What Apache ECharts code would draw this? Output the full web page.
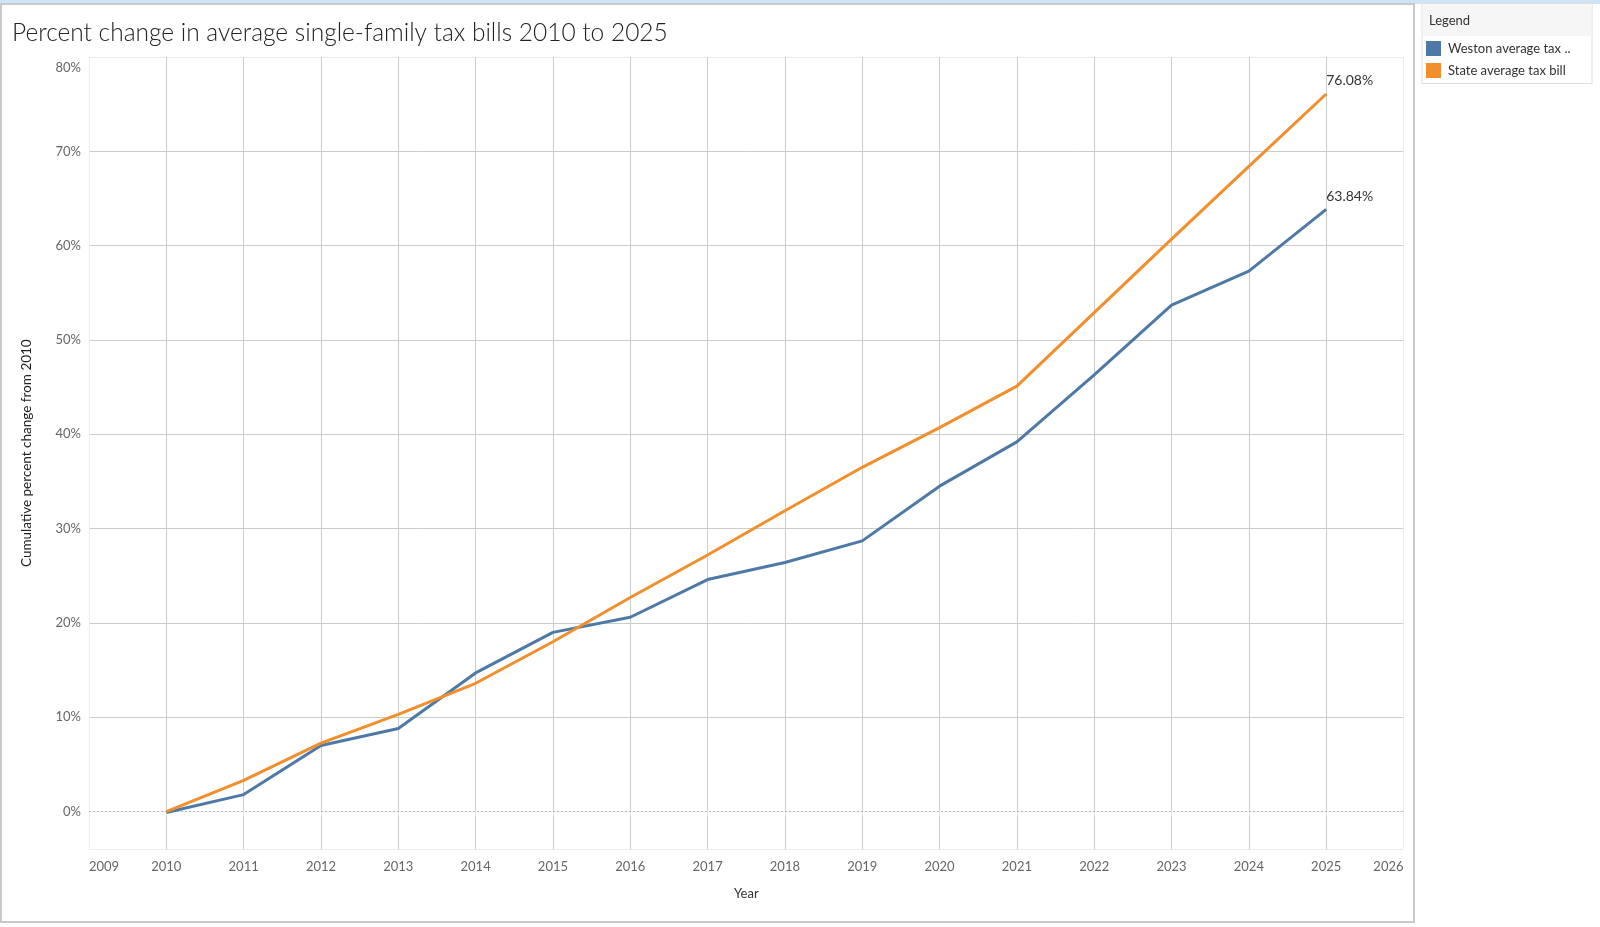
<!DOCTYPE html>
<html>
<head>
<meta charset="utf-8">
<script src="https://cdn.jsdelivr.net/npm/echarts@6/dist/echarts.min.js"></script>
<style>
html,body{margin:0;padding:0;background:#fff;}
#chart{width:1600px;height:927px;}
</style>
</head>
<body>
<div id="chart"></div>
<script>
const years = [2010, 2011, 2012, 2013, 2014, 2015, 2016, 2017, 2018, 2019, 2020, 2021, 2022, 2023, 2024, 2025];
const westonPct = [-0.1, 1.8, 7.0, 8.8, 14.7, 19.0, 20.6, 24.6, 26.4, 28.7, 34.5, 39.2, 46.3, 53.7, 57.3, 63.84];
const statePct = [0, 3.3, 7.25, 10.3, 13.6, 18.0, 22.7, 27.2, 31.9, 36.5, 40.7, 45.1, 52.9, 60.7, 68.4, 76.08];
const seriesNames = ['Weston average tax bill', 'State average tax bill'];
const titleText = 'Percent change in average single-family tax bills 2010 to 2025';

const FONT = 'Lato, "Noto Sans", sans-serif';
const chart = echarts.init(document.getElementById('chart'));

function pairs(vals) { return years.map((y, i) => [y, vals[i]]); }
const lastIdx = years.length - 1;

function lineSeries(name, vals, color, withZero) {
  const s = {
    name: name,
    type: 'line',
    data: pairs(vals),
    symbol: 'circle',
    symbolSize: 0,
    showSymbol: true,
    lineStyle: { color: color, width: 3 },
    itemStyle: { color: color },
    label: {
      show: true,
      position: [0, -6],
      align: 'left',
      verticalAlign: 'bottom',
      fontFamily: FONT,
      fontSize: 14,
      color: '#333',
      formatter: p => p.dataIndex === lastIdx ? p.value[1].toFixed(2) + '%' : ''
    },
    emphasis: { disabled: true },
    silent: true,
    z: 3
  };
  if (withZero) {
    s.markLine = {
      silent: true,
      symbol: 'none',
      label: { show: false },
      lineStyle: { color: '#b8b8b8', type: [2, 2], width: 1 },
      data: [{ yAxis: 0 }],
      z: 1
    };
  }
  return s;
}

const grey = '#cccccc', edge = '#ececec';
const xColors = [];
for (let y = 2009; y <= 2026; y++) xColors.push(y === 2009 || y === 2026 ? edge : grey);
const yColors = [edge, 'rgba(0,0,0,0)', grey, grey, grey, grey, grey, grey, grey, edge];

chart.setOption({
  backgroundColor: '#fff',
  animation: false,
  textStyle: { fontFamily: FONT },
  graphic: [
    { type: 'rect', shape: { x: 0, y: 0, width: 1600, height: 4 }, style: { fill: '#cfe4f5' }, z: 0 },
    { type: 'rect', shape: { x: 1, y: 4, width: 1413, height: 918 }, style: { fill: 'none', stroke: '#c9c9c9', lineWidth: 2 }, z: 0 },
    { type: 'rect', shape: { x: 1422, y: 3.5, width: 170, height: 80 }, style: { fill: '#fff', stroke: '#dedede', lineWidth: 1 }, z: 0 },
    { type: 'rect', shape: { x: 1422.5, y: 4, width: 169, height: 32 }, style: { fill: '#f6f6f6' }, z: 0 },
    { type: 'text', x: 1429, y: 21, style: { text: 'Legend', fontFamily: FONT, fontSize: 13, fill: '#333', verticalAlign: 'middle' }, z: 1 }
  ],
  title: {
    text: titleText,
    left: 7,
    top: 16,
    textStyle: { fontFamily: FONT, fontWeight: 300, fontSize: 24.5, color: '#222' }
  },
  legend: {
    orient: 'vertical',
    left: 1421,
    top: 36,
    itemWidth: 15,
    itemHeight: 15,
    itemGap: 7,
    icon: 'rect',
    selectedMode: false,
    data: seriesNames,
    formatter: n => n.length > 22 ? n.slice(0, 19) + '..' : n,
    textStyle: { fontFamily: FONT, fontSize: 13, color: '#333', padding: [0, 0, 0, 2] }
  },
  grid: { left: 89, right: 196.5, top: 57, bottom: 77.7, containLabel: false },
  xAxis: {
    type: 'value',
    min: 2009,
    max: 2026,
    interval: 1,
    name: 'Year',
    nameLocation: 'middle',
    nameGap: 38,
    nameTextStyle: { fontFamily: FONT, fontSize: 13, color: '#333' },
    axisLine: { show: true, lineStyle: { color: '#ececec', width: 1 } },
    axisTick: { show: true, length: 4, lineStyle: { color: '#ececec' } },
    axisLabel: {
      fontFamily: FONT, fontSize: 13, color: '#666', margin: 11,
      alignMinLabel: 'left', alignMaxLabel: 'right',
      formatter: v => String(v)
    },
    splitLine: { show: true, lineStyle: { color: xColors, width: 1 } }
  },
  yAxis: {
    type: 'value',
    min: -4,
    max: 80,
    splitNumber: 8,
    name: 'Cumulative percent change from 2010',
    nameLocation: 'middle',
    nameGap: 55,
    nameTextStyle: { fontFamily: FONT, fontSize: 13.5, color: '#222' },
    axisLine: { show: false },
    axisTick: { show: false },
    axisLabel: {
      fontFamily: FONT, fontSize: 13, color: '#666', margin: 8,
      verticalAlignMaxLabel: 'top',
      formatter: v => v < 0 ? '' : (v === 80 ? '{top|80%}' : v + '%'),
      rich: { top: { fontFamily: FONT, fontSize: 13, color: '#666', padding: [4, 0, 0, 0] } }
    },
    splitLine: { show: true, lineStyle: { color: yColors, width: 1 } }
  },
  series: [
    lineSeries(seriesNames[0], westonPct, '#4e79a7', true),
    lineSeries(seriesNames[1], statePct, '#f28e2b', false)
  ]
});
</script>
</body>
</html>
